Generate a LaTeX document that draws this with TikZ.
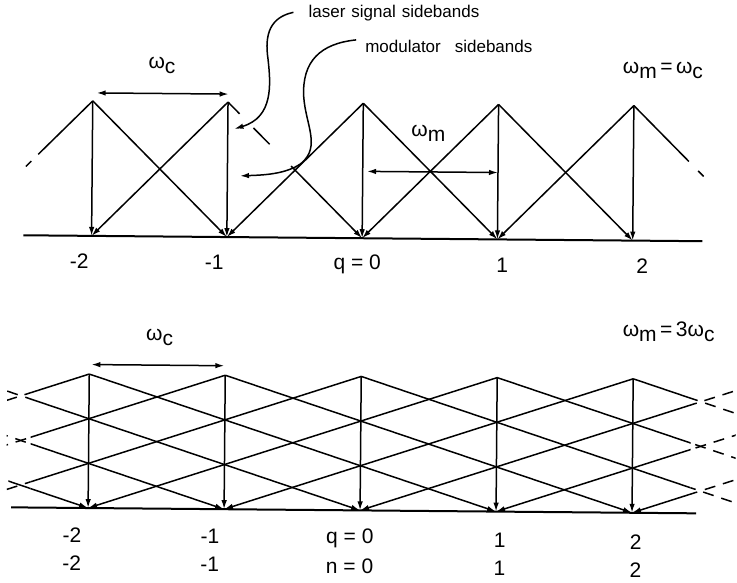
\documentclass[tikz,border=0pt]{standalone}
\usepackage{fontspec}
\setmainfont{Liberation Sans}
\usetikzlibrary{arrows.meta,calc}
\tikzset{
  ln/.style={line width=1.5pt},
  arr/.style={ln,-{Latex[length=9pt,width=5.5pt]}},
  darr/.style={ln,{Latex[length=9pt,width=5.5pt]}-{Latex[length=9pt,width=5.5pt]}},
  dsh/.style={ln,dash pattern=on 11pt off 8pt},
  num/.style={font=\fontsize{21}{21}\selectfont, inner sep=0pt},
  lbl/.style={font=\fontsize{17}{17}\selectfont, inner sep=0pt},
  om/.style={font=\fontsize{21}{21}\selectfont, inner sep=0pt},
}
\newcommand\wsub[2]{#1\raisebox{-5pt}{#2}}
\begin{document}
\begin{tikzpicture}[x=1pt,y=-1pt]
\useasboundingbox (0,0) rectangle (737,582);
\begin{scope}[rotate around={-0.5:(368,291)}]
% ---------------- top panel ----------------
\foreach \i in {0,...,6} {
  \coordinate (tp\i) at ({361.7+135.3*(\i-3)},103.3);
  \coordinate (tb\i) at ({361.7+135.3*(\i-3)},238.3);
}
\coordinate (tL) at (23,238.3);
\coordinate (tR) at (702,238.3);
\draw[ln,line width=2pt] (tL) -- (tR);
\foreach \i in {1,...,5} \draw[arr] (tp\i) -- (tb\i);
\foreach \i/\j in {1/2,3/4,4/5} \draw[arr] (tp\i) -- (tb\j);
\foreach \i/\j in {2/1,3/2,4/3,5/4} \draw[arr] (tp\i) -- (tb\j);
% broken diagonal from q=-1
\draw[ln] (tp2) -- ($(tp2)!0.086!(tb3)$);
\draw[ln] ($(tp2)!0.19!(tb3)$) -- ($(tp2)!0.31!(tb3)$);
\draw[arr] ($(tp2)!0.47!(tb3)$) -- (tb3);
% edge pieces
\draw[ln] (tp1) -- ($(tp1)!0.40!(tb0)$);
\draw[ln] ($(tp1)!0.45!(tb0)$) -- ($(tp1)!0.49!(tb0)$);
\draw[ln] (tp5) -- ($(tp5)!0.41!(tb6)$);
\draw[ln] ($(tp5)!0.48!(tb6)$) -- ($(tp5)!0.52!(tb6)$);
% omega arrows
\coordinate (wcA) at (95,95.3);
\coordinate (wcB) at (227,95.3);
\draw[darr] (wcA) -- (wcB);
\node[om] (wcT) at (160,67) {\wsub{ω}{c}};
\coordinate (wmA) at (366,171.4);
\coordinate (wmB) at (497,171.4);
\draw[darr] (wmA) -- (wmB);
\node[om] (wmT) at (427,132.5) {\wsub{ω}{m}};
\node[om] (eqT) at (661,68) {\wsub{ω}{m}\,=\,\wsub{ω}{c}};
% sideband labels and curved pointers
\node[lbl,anchor=base west] (lsT) at (306,18.5) {laser\hspace{6pt}signal\hspace{6pt}sidebands};
\node[lbl,anchor=base west] (msT) at (363,53) {modulator\hspace{14pt}sidebands};
\coordinate (lsS) at (291,13);
\coordinate (lsE) at (233,130);
\draw[arr] (lsS) .. controls (268,18) and (262,35) .. (266,60)
  .. controls (269,85) and (272,118) .. (lsE);
\coordinate (msS) at (354,40);
\coordinate (msE) at (239,177);
\draw[arr] (msS) .. controls (318,44) and (300,62) .. (302,97)
  .. controls (304,125) and (320,147) .. (300,164)
  .. controls (285,175) and (262,176) .. (msE);
% axis numbers
\node[num] (tl0) at (79,264) {-2};
\node[num] (tl1) at (214,264) {-1};
\node[num] (tl2) at (357,264) {q = 0};
\node[num] (tl3) at (502,264) {1};
\node[num] (tl4) at (642,264) {2};
% ---------------- bottom panel ----------------
\foreach \i in {0,...,16} {
  \coordinate (bp\i) at ({362+136*(\i-8)},376.5);
  \coordinate (bb\i) at ({362+136*(\i-8)},510.5);
}
\coordinate (bL) at (13,510.5);
\coordinate (bR) at (698,510.5);
\begin{scope}
  \clip (32,360) rectangle (692,522);
  \foreach \i in {3,...,13} {
    \pgfmathtruncatemacro\r{\i+3}
    \pgfmathtruncatemacro\l{\i-3}
    \draw[arr] (bp\i) -- (bb\r);
    \draw[arr] (bp\i) -- (bb\l);
  }
\end{scope}
\begin{scope}
  \clip (10,360) rectangle (32,522);
  \draw[ln] (bp3) -- (bb6);
\end{scope}
\begin{scope}
  \clip (8,360) rectangle (32,522) (692,360) rectangle (737,522);
  \foreach \i in {4,...,13} {
    \pgfmathtruncatemacro\r{\i+3}
    \pgfmathtruncatemacro\l{\i-3}
    \draw[dsh] (bp\i) -- (bb\r);
    \draw[dsh] (bp\i) -- (bb\l);
  }
\end{scope}
\foreach \i in {6,...,10} \draw[arr] (bp\i) -- (bb\i);
\draw[ln,line width=2pt] (bL) -- (bR);
\coordinate (wcC) at (92,367);
\coordinate (wcD) at (225,367);
\draw[darr] (wcC) -- (wcD);
\node[om] (wcU) at (160,339) {\wsub{ω}{c}};
\node[om] (eqU) at (669,329) {\wsub{ω}{m}\,=\,3\wsub{ω}{c}};
\node[num] (bq0) at (74,538) {-2};
\node[num] (bq1) at (212,538) {-1};
\node[num] (bq2) at (352,538) {q = 0};
\node[num] (bq3) at (502,539) {1};
\node[num] (bq4) at (638,540) {2};
\node[num] (bn0) at (74,566) {-2};
\node[num] (bn1) at (212,566) {-1};
\node[num] (bn2) at (352,566) {n = 0};
\node[num] (bn3) at (502,567) {1};
\node[num] (bn4) at (638,568) {2};
\end{scope}
\end{tikzpicture}
\end{document}
